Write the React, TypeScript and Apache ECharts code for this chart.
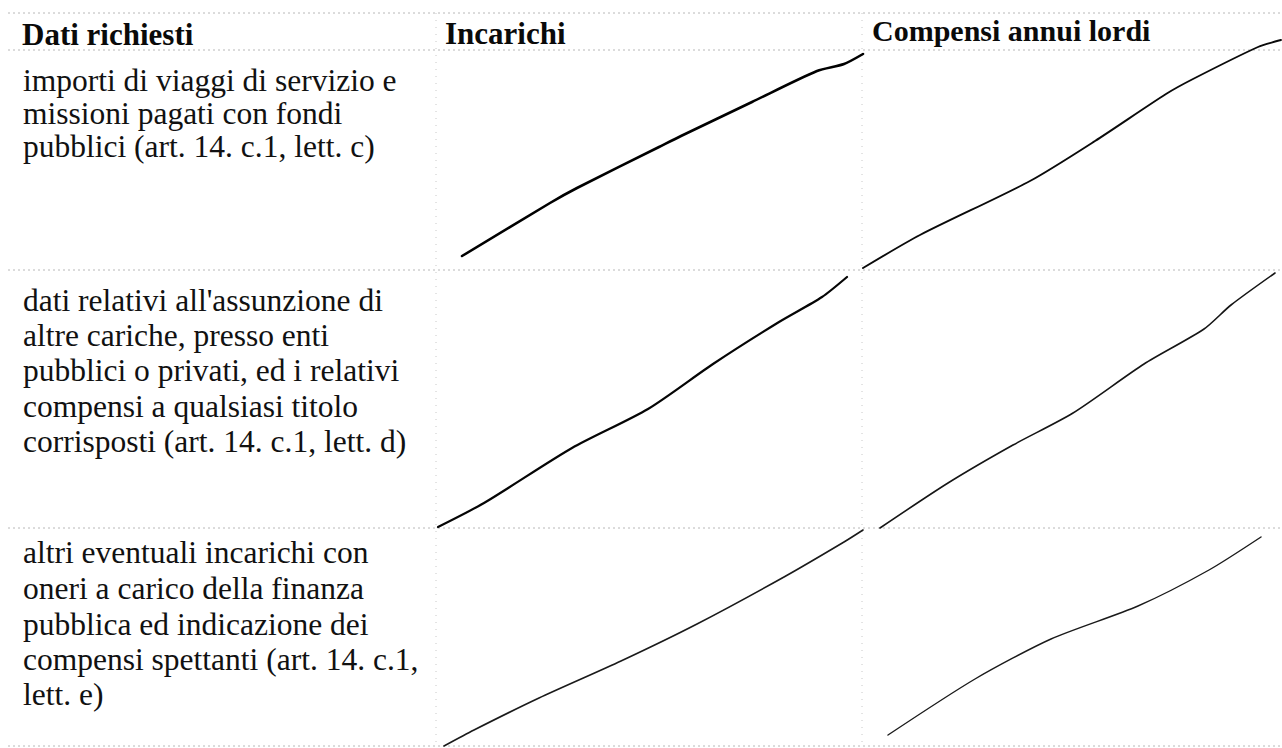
import React, { useEffect, useRef } from "react";
import * as echarts from "echarts";

// Table headers
const headers = ["Dati richiesti", "Incarichi", "Compensi annui lordi"];

// Row texts (line-wrapped as in the reference)
const row1Lines = [
  "importi di viaggi di servizio e",
  "missioni pagati con fondi",
  "pubblici (art. 14. c.1, lett. c)",
];
const row2Lines = [
  "dati relativi all'assunzione di",
  "altre cariche, presso enti",
  "pubblici o privati, ed i relativi",
  "compensi a qualsiasi titolo",
  "corrisposti (art. 14. c.1, lett. d)",
];
const row3Lines = [
  "altri eventuali incarichi con",
  "oneri a carico della finanza",
  "pubblica ed indicazione dei",
  "compensi spettanti (art. 14. c.1,",
  "lett. e)",
];

// Table rule positions (page coordinates)
const rowRules = [13, 50, 270, 528, 746];
const colRules = [436, 862];

// Strike-through strokes in the empty cells: [x, y]
const strokeR1C2 = [
  [462, 256], [550, 203], [577, 188], [659, 147], [681, 136],
  [752, 102], [817, 71], [844, 64], [863, 54],
];
const strokeR1C3 = [
  [863, 268], [920, 235], [1030, 181], [1095, 141], [1166, 94],
  [1193, 79], [1258, 47], [1281, 40],
];
const strokeR2C2 = [
  [438, 527], [484, 503], [572, 448], [648, 409], [713, 364],
  [779, 322], [822, 297], [847, 277],
];
const strokeR2C3 = [
  [880, 528], [948, 483], [1013, 445], [1073, 413], [1144, 364],
  [1204, 329], [1231, 305], [1275, 273],
];
const strokeR3C2 = [
  [444, 746], [474, 730], [539, 698], [621, 661], [697, 624],
  [784, 577], [844, 542], [863, 530],
];
const strokeR3C3 = [
  [888, 735], [975, 679], [1051, 639], [1138, 606], [1209, 570],
  [1261, 537],
];

const W = 1282;
const H = 748;

export default function App() {
  const ref = useRef<HTMLDivElement>(null);

  useEffect(() => {
    if (!ref.current) return;
    const chart = echarts.init(ref.current, null, { renderer: "svg" });

    const ruleSeries: any[] = [];
    rowRules.forEach((y, i) => {
      ruleSeries.push({
        type: "line",
        name: "rowRule" + i,
        data: [[8, y], [W, y]],
        symbol: "none",
        silent: true,
        lineStyle: { color: "#b8b8b8", width: 1, type: [2, 3] },
        z: 1,
      });
    });
    colRules.forEach((x, i) => {
      ruleSeries.push({
        type: "line",
        name: "colRule" + i,
        data: [[x, rowRules[0]], [x, rowRules[rowRules.length - 1]]],
        symbol: "none",
        silent: true,
        lineStyle: { color: "#c8c8c8", width: 1, type: [1, 6] },
        z: 1,
      });
    });

    const strokes: [number[][], number, string][] = [
      [strokeR1C2, 2.6, "#000"],
      [strokeR1C3, 1.9, "#0a0a0a"],
      [strokeR2C2, 2.2, "#050505"],
      [strokeR2C3, 1.6, "#151515"],
      [strokeR3C2, 1.6, "#1a1a1a"],
      [strokeR3C3, 1.4, "#1a1a1a"],
    ];
    const strokeSeries = strokes.map(([d, w, c], i) => ({
      type: "line",
      name: "stroke" + i,
      data: d,
      symbol: "none",
      smooth: 0.25,
      silent: true,
      lineStyle: { color: c, width: w, cap: "round", join: "round" },
      z: 3,
    }));

    const serif = "Liberation Serif";
    const texts: any[] = [];
    // baselines of header texts
    const headerPos = [
      [22, 45],
      [445, 44],
      [872, 41],
    ];
    const headerSizes = [31, 31, 30];
    const bodySize = 31.5;
    const mid = (baseline: number, size: number) => baseline - 0.3375 * size;
    headers.forEach((h, i) => {
      texts.push({
        type: "text",
        x: headerPos[i][0],
        y: mid(headerPos[i][1], headerSizes[i]),
        style: {
          text: h,
          fontFamily: serif,
          fontSize: headerSizes[i],
          fontWeight: "bold",
          fill: "#0a0a0a",
          align: "left",
          verticalAlign: "middle",
        },
      });
    });
    const rows: [string[], number[]][] = [
      [row1Lines, [91, 124, 157]],
      [row2Lines, [311, 346, 381, 417, 452]],
      [row3Lines, [563, 599, 635, 670, 705]],
    ];
    rows.forEach(([lines, ys]) => {
      lines.forEach((t, j) => {
        texts.push({
          type: "text",
          x: 23,
          y: mid(ys[j], bodySize),
          style: {
            text: t,
            fontFamily: serif,
            fontSize: bodySize,
            fontWeight: "normal",
            fill: "#111",
            align: "left",
            verticalAlign: "middle",
          },
        });
      });
    });

    chart.setOption({
      animation: false,
      backgroundColor: "#ffffff",
      grid: { left: 0, right: 0, top: 0, bottom: 0 },
      xAxis: { type: "value", min: 0, max: W, show: false },
      yAxis: { type: "value", min: 0, max: H, inverse: true, show: false },
      series: [...ruleSeries, ...strokeSeries],
      graphic: texts,
    });

    return () => chart.dispose();
  }, []);

  return (
    <div
      ref={ref}
      style={{ position: "fixed", left: 0, top: 0, width: W, height: H, background: "#fff" }}
    />
  );
}
